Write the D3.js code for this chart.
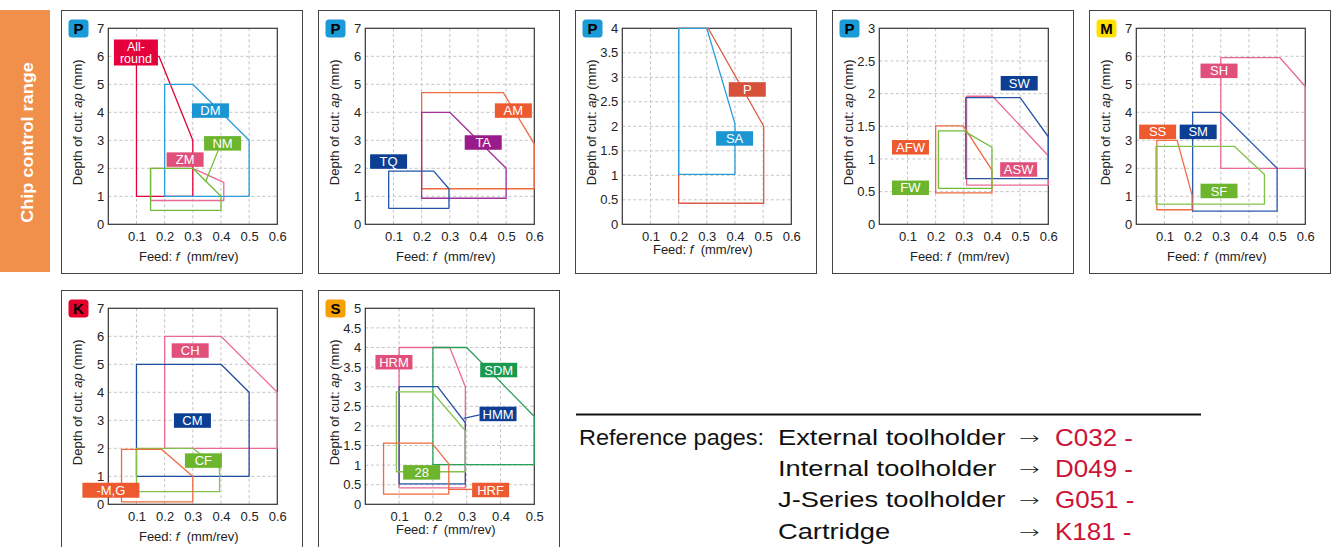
<!DOCTYPE html>
<html><head><meta charset="utf-8">
<script src="https://cdn.jsdelivr.net/npm/d3@7"></script>
<style>body{margin:0;background:#fff;} svg{display:block;font-family:"Liberation Sans",Arial,Helvetica,sans-serif;}</style>
</head><body><svg id="c" width="1334" height="547"></svg>
<script>
// ---------- data ----------
const badges = ["P","P","P","P","M","K","S"];
const badgeColors = ["#1a9ad6","#1a9ad6","#1a9ad6","#1a9ad6","#ffe100","#e4002b","#f5a000"];
const xMaxes = [0.6,0.6,0.6,0.6,0.6,0.6,0.5];
const yMaxes = [7,7,4,3,7,7,5];
const xTicks6 = [0.1,0.2,0.3,0.4,0.5,0.6];
const xTicks5 = [0.1,0.2,0.3,0.4,0.5];
const yTicks7 = [0,1,2,3,4,5,6,7];
const yTicks4 = [0,0.5,1,1.5,2,2.5,3,3.5,4];
const yTicks3 = [0,0.5,1,1.5,2,2.5,3];
const yTicks5 = [0,0.5,1,1.5,2,2.5,3,3.5,4,4.5,5];

const shapesP1 = [
  {name:"All-round", pts:[[0.1,1],[0.1,6],[0.18,6],[0.3,3],[0.3,1]]},
  {name:"DM", pts:[[0.2,1],[0.2,5],[0.3,5],[0.5,3],[0.5,1]]},
  {name:"ZM", pts:[[0.15,0.85],[0.15,2],[0.3,2],[0.41,1.5],[0.41,0.85]]},
  {name:"NM", pts:[[0.15,0.5],[0.15,2],[0.3,2],[0.4,1],[0.4,0.5]]}
];
const shapesP2 = [
  {name:"AM", pts:[[0.2,1.27],[0.2,4.7],[0.49,4.7],[0.6,2.87],[0.6,1.27]]},
  {name:"TA", pts:[[0.2,0.93],[0.2,4],[0.3,4],[0.5,2],[0.5,0.93]]},
  {name:"TQ", pts:[[0.083,0.57],[0.083,1.9],[0.243,1.9],[0.297,1.27],[0.297,0.57]]}
];
const shapesP3 = [
  {name:"P", pts:[[0.2,0.43],[0.2,4],[0.305,4],[0.502,2],[0.502,0.43]]},
  {name:"SA", pts:[[0.2,1.02],[0.2,4],[0.3,4],[0.4,2.05],[0.4,1.02]]}
];
const shapesP4 = [
  {name:"ASW", pts:[[0.31,0.6],[0.31,1.96],[0.402,1.96],[0.6,1.05],[0.6,0.6]]},
  {name:"SW", pts:[[0.307,0.7],[0.307,1.94],[0.5,1.94],[0.6,1.34],[0.6,0.7]]},
  {name:"AFW", pts:[[0.2,0.48],[0.2,1.505],[0.298,1.505],[0.4,0.83],[0.4,0.48]]},
  {name:"FW", pts:[[0.21,0.55],[0.21,1.43],[0.3,1.43],[0.4,1.18],[0.4,0.55]]}
];
const shapesP5 = [
  {name:"SH", pts:[[0.3,2],[0.3,5.95],[0.51,5.95],[0.6,4.92],[0.6,2]]},
  {name:"SM", pts:[[0.2,0.47],[0.2,4],[0.3,4],[0.5,2],[0.5,0.47]]},
  {name:"SS", pts:[[0.073,0.52],[0.073,3],[0.145,3],[0.198,1.04],[0.198,0.52]]},
  {name:"SF", pts:[[0.07,0.72],[0.07,2.78],[0.349,2.78],[0.455,1.78],[0.455,0.72]]}
];
const shapesP6 = [
  {name:"CH", pts:[[0.2,2],[0.2,6],[0.4,6],[0.6,4],[0.6,2]]},
  {name:"CM", pts:[[0.1,1],[0.1,5],[0.4,5],[0.5,4],[0.5,1]]},
  {name:"CF", pts:[[0.1,0.45],[0.1,2],[0.3,2],[0.395,1.28],[0.395,0.45]]},
  {name:"-M,G", pts:[[0.047,0.09],[0.047,1.96],[0.19,1.96],[0.3,0.99],[0.3,0.09]]}
];
const shapesP7 = [
  {name:"HRM", pts:[[0.1,0.42],[0.1,4],[0.25,4],[0.296,3],[0.296,0.42]]},
  {name:"SDM", pts:[[0.2,1.01],[0.2,4],[0.3,4],[0.5,2.24],[0.5,1.01]]},
  {name:"HMM", pts:[[0.1,0.52],[0.1,3],[0.214,3],[0.296,2.08],[0.296,0.52]]},
  {name:"28", pts:[[0.092,0.83],[0.092,2.87],[0.197,2.87],[0.296,1.88],[0.296,0.83]]},
  {name:"HRF", pts:[[0.054,0.26],[0.054,1.56],[0.197,1.56],[0.247,1.03],[0.247,0.26]]}
];
const allShapes = [shapesP1,shapesP2,shapesP3,shapesP4,shapesP5,shapesP6,shapesP7];

// label anchors (data coordinates: left, top)
const labelsP1 = [["All-round",0.02,6.6],["DM",0.297,4.32],["NM",0.34,3.15],["ZM",0.207,2.57]];
const labelsP2 = [["AM",0.46,4.32],["TA",0.353,3.18],["TQ",0.017,2.5]];
const labelsP3 = [["P",0.378,2.9],["SA",0.333,1.9]];
const labelsP4 = [["SW",0.431,2.27],["ASW",0.429,0.95],["AFW",0.045,1.29],["FW",0.045,0.67]];
const labelsP5 = [["SH",0.228,5.74],["SM",0.154,3.56],["SS",0.01,3.56],["SF",0.228,1.45]];
const labelsP6 = [["CH",0.225,5.75],["CM",0.233,3.25],["CF",0.272,1.82],["-M,G",-0.092,0.77]];
const labelsP7 = [["HRM",0.03,3.81],["SDM",0.34,3.61],["HMM",0.338,2.49],["28",0.112,1.0],["HRF",0.316,0.55]];
const allLabels = [labelsP1,labelsP2,labelsP3,labelsP4,labelsP5,labelsP6,labelsP7];

// leader lines (data coordinates)
const leaders = [
  {panel:0, name:"NM", pts:[[0.39,2.64],[0.345,1.51]]},
  {panel:6, name:"HMM", pts:[[0.338,2.28],[0.291,2.19]]},
  {panel:6, name:"HRF", pts:[[0.247,0.38],[0.316,0.38]]}
];

const colorOf = {"All-round":"#e4003a", DM:"#1b96d3", NM:"#6cb52d", ZM:"#e0507b", AM:"#ee5a2f",
  TA:"#9a1b8a", TQ:"#0c3f93", P:"#d6503a", SA:"#1b96d3", SW:"#0c3f93", ASW:"#e0507b", AFW:"#ee5a2f",
  FW:"#6cb52d", SH:"#e0507b", SM:"#0c3f93", SS:"#ee5a2f", SF:"#6cb52d", CH:"#e0507b", CM:"#0c3f93",
  CF:"#6cb52d", "-M,G":"#ee5a2f", HRM:"#e0507b", SDM:"#1a9a50", HMM:"#0c3f93", "28":"#6cb52d", HRF:"#ee5a2f"};
const lineColorOf = {"All-round":"#e4003a", DM:"#2a9ddb", NM:"#72bb3a", ZM:"#e86a92", AM:"#f06a40",
  TA:"#a0309a", TQ:"#2255a8", P:"#da5a44", SA:"#2a9ddb", SW:"#2a55a5", ASW:"#ea6a94", AFW:"#f06a40",
  FW:"#72bb3a", SH:"#ea6a94", SM:"#2a5cb0", SS:"#f06a40", SF:"#82c24a", CH:"#ea6a94", CM:"#1f4ea0",
  CF:"#82c24a", "-M,G":"#f06a40", HRM:"#ea6a94", SDM:"#2aa05a", HMM:"#2a55a5", "28":"#82c24a", HRF:"#f06a40"};

const refTitle = "Reference pages:";
const refLeft = ["External toolholder","Internal toolholder","J-Series toolholder","Cartridge"];
const refCodes = ["C032 -","D049 -","G051 -","K181 -"];
const bannerText = "Chip control range";

// ---------- layout ----------
const panelX = [61,318,575,832,1089,61,318];
const panelY = [10,10,10,10,10,290,290];
const PW = 241, PH = 263;
const PL = 47.3, PT = 18.3, IW = 169, IH = 196;

const svg = d3.select("#c");

function stretch(sel, f){
  const n = sel.node().getComputedTextLength();
  sel.attr("textLength", n*f).attr("lengthAdjust","spacingAndGlyphs");
  return sel;
}

// left side banner
svg.append("rect").attr("x",0).attr("y",10).attr("width",50).attr("height",262).attr("fill","#f0904b");
stretch(svg.append("text").attr("transform","translate(33.3,142.5) rotate(-90)").attr("text-anchor","middle")
  .attr("fill","#fff").attr("font-weight","bold").attr("font-size",16).text(bannerText), 1.13);

allShapes.forEach((shapes,i)=>{
  const g = svg.append("g").attr("transform",`translate(${panelX[i]},${panelY[i]})`);
  g.append("rect").attr("x",0.5).attr("y",0.5).attr("width",PW).attr("height",PH)
    .attr("fill","none").attr("stroke","#444").attr("stroke-width",1);
  const x = d3.scaleLinear().domain([0,xMaxes[i]]).range([PL,PL+IW]);
  const y = d3.scaleLinear().domain([0,yMaxes[i]]).range([PT+IH,PT]);
  const xt = xMaxes[i]===0.5 ? xTicks5 : xTicks6;
  const yt = yMaxes[i]===7 ? yTicks7 : yMaxes[i]===4 ? yTicks4 : yMaxes[i]===3 ? yTicks3 : yTicks5;
  // grid
  g.append("g").selectAll("line").data(xt.filter(v=>v<xMaxes[i])).join("line")
    .attr("x1",d=>x(d)).attr("x2",d=>x(d)).attr("y1",PT).attr("y2",PT+IH)
    .attr("stroke","#c4c4c4").attr("stroke-dasharray","3,2.5").attr("stroke-width",1);
  g.append("g").selectAll("line").data(yt.filter(v=>v>0&&v<yMaxes[i])).join("line")
    .attr("y1",d=>y(d)).attr("y2",d=>y(d)).attr("x1",PL).attr("x2",PL+IW)
    .attr("stroke","#c4c4c4").attr("stroke-dasharray","3,2.5").attr("stroke-width",1);
  // frame
  g.append("rect").attr("x",PL).attr("y",PT).attr("width",IW).attr("height",IH)
    .attr("fill","none").attr("stroke","#333").attr("stroke-width",1.2);
  // axes
  const ax = g.append("g").attr("transform",`translate(0,${PT+IH})`)
    .call(d3.axisBottom(x).tickValues(xt).tickSize(0).tickPadding(7).tickFormat(d=>String(d)));
  const ay = g.append("g").attr("transform",`translate(${PL},0)`)
    .call(d3.axisLeft(y).tickValues(yt).tickSize(0).tickPadding(4).tickFormat(d=>String(d)));
  [ax,ay].forEach(a=>{a.select(".domain").remove();
    a.selectAll("text").attr("font-size",13).attr("fill","#222").attr("font-family","Liberation Sans, Arial, sans-serif");});
  // axis titles
  const compact = (i===2 || i===6);
  const xl = g.append("text").attr("x",PL+IW/2-4).attr("y",compact?243.5:250.5).attr("text-anchor","middle")
    .attr("font-size",13).attr("fill","#222");
  xl.append("tspan").text("Feed: ");
  xl.append("tspan").attr("font-style","italic").text("f");
  xl.append("tspan").text("\u00a0 (mm/rev)");
  const yl = g.append("text").attr("transform",`translate(21,${PT+IH/2-4}) rotate(-90)`).attr("text-anchor","middle")
    .attr("font-size",13).attr("fill","#222");
  yl.append("tspan").text("Depth of cut: ");
  yl.append("tspan").attr("font-style","italic").text("ap");
  yl.append("tspan").text(" (mm)");
  // badge
  g.append("rect").attr("x",7.5).attr("y",9.5).attr("width",20).attr("height",18).attr("rx",3.5)
    .attr("fill",badgeColors[i]);
  g.append("text").attr("x",17.5).attr("y",24).attr("text-anchor","middle").attr("font-weight","bold")
    .attr("font-size",15).attr("fill","#000").text(badges[i]);
  // shapes
  const line = d3.line().x(d=>x(d[0])).y(d=>y(d[1]));
  g.append("g").selectAll("path").data(shapes).join("path")
    .attr("d",d=>line(d.pts)+"Z").attr("fill","none")
    .attr("stroke",d=>lineColorOf[d.name]).attr("stroke-width",1.3).attr("stroke-linejoin","round");
  leaders.filter(l=>l.panel===i).forEach(l=>{
    g.append("path").attr("d",line(l.pts)).attr("fill","none")
      .attr("stroke",lineColorOf[l.name]).attr("stroke-width",1.3);
  });
  // labels
  allLabels[i].forEach(([name,lx,ly])=>{
    const w = name==="All-round" ? 44 : name==="-M,G" ? 57 : 37;
    const h = name==="All-round" ? 26 : name==="-M,G" ? 15 : 14.5;
    const bx = x(lx), by = y(ly);
    g.append("rect").attr("x",bx).attr("y",by).attr("width",w).attr("height",h).attr("fill",colorOf[name]);
    if (name==="All-round") {
      const t = g.append("text").attr("text-anchor","middle").attr("font-size",12.5).attr("fill","#fff");
      t.append("tspan").attr("x",bx+w/2).attr("y",by+11).text("All-");
      t.append("tspan").attr("x",bx+w/2).attr("y",by+23).text("round");
    } else {
      g.append("text").attr("x",bx+w/2).attr("y",by+h/2+4.6).attr("text-anchor","middle")
        .attr("font-size",13).attr("fill","#fff").text(name);
    }
  });
});

// reference pages
svg.append("line").attr("x1",576).attr("x2",1201).attr("y1",414.5).attr("y2",414.5)
  .attr("stroke","#111").attr("stroke-width",2);
stretch(svg.append("text").attr("x",579).attr("y",445).attr("font-size",22).attr("fill","#111").text(refTitle), 1.065);
refLeft.forEach((t,k)=>{
  const yy = 445 + k*31.2;
  stretch(svg.append("text").attr("x",778).attr("y",yy).attr("font-size",22).attr("fill","#111").text(t), 1.24);
  svg.append("text").attr("transform",`translate(1019,${yy-1}) scale(1.45,1)`)
    .attr("font-family","DejaVu Sans").attr("font-weight",200).attr("font-size",17).attr("fill","#111").text("\u2192");
  stretch(svg.append("text").attr("x",1055).attr("y",yy+1).attr("font-size",24.5).attr("fill","#cc1236").text(refCodes[k]), 1.06);
});
</script></body></html>
